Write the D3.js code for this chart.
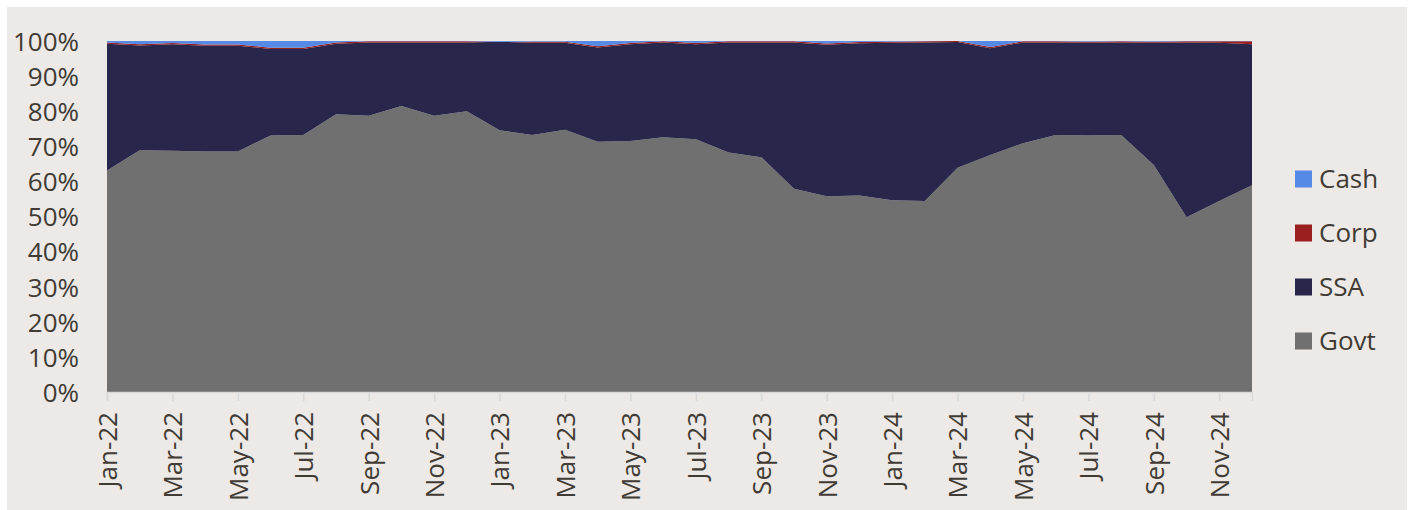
<!DOCTYPE html>
<html>
<head>
<meta charset="utf-8">
<script src="https://cdn.jsdelivr.net/npm/d3@7"></script>
<style>
  html, body { margin: 0; padding: 0; background: #ffffff; }
  svg { display: block; }
  text { font-family: "Open Sans", "Noto Sans", sans-serif; fill: #403b35; }
</style>
</head>
<body>
<svg id="chart" width="1412" height="510"></svg>
<script>
const months = ["Jan-22","Feb-22","Mar-22","Apr-22","May-22","Jun-22","Jul-22","Aug-22","Sep-22","Oct-22","Nov-22","Dec-22",
                "Jan-23","Feb-23","Mar-23","Apr-23","May-23","Jun-23","Jul-23","Aug-23","Sep-23","Oct-23","Nov-23","Dec-23",
                "Jan-24","Feb-24","Mar-24","Apr-24","May-24","Jun-24","Jul-24","Aug-24","Sep-24","Oct-24","Nov-24","Dec-24"];

const govt = [63.1,68.9,68.7,68.5,68.5,73.1,73.2,79.1,78.7,81.5,78.7,80.0,
              74.6,73.2,74.7,71.3,71.5,72.6,72.0,68.2,66.9,57.9,55.8,56.0,
              54.6,54.4,63.9,67.5,70.9,73.2,73.1,73.2,64.7,49.8,54.4,58.9];
const corp = [0.35,0.35,0.35,0.35,0.35,0.35,0.35,0.35,0.35,0.3,0.3,0.3,
              0.0,0.3,0.3,0.35,0.35,0.3,0.35,0.3,0.3,0.3,0.35,0.35,
              0.3,0.3,0.3,0.35,0.3,0.3,0.3,0.3,0.3,0.3,0.4,0.8];
const cash = [0.4,0.9,0.6,1.0,1.0,1.9,1.9,0.4,0.1,0.1,0.1,0.1,
              0.2,0.2,0.2,1.5,0.6,0.1,0.6,0.1,0.1,0.1,0.7,0.3,
              0.2,0.1,0.0,1.7,0.1,0.1,0.2,0.1,0.2,0.1,0.1,0.1];
const ssa = [36.15,29.85,30.35,30.15,30.15,24.65,24.55,20.15,20.85,18.1,20.9,19.6,
             25.2,26.3,24.8,26.85,27.55,27.0,27.05,31.4,32.7,41.7,43.15,43.35,
             44.9,45.2,35.8,30.45,28.7,26.4,26.4,26.4,34.8,49.8,45.1,40.2];

const seriesKeys = ["Govt","SSA","Corp","Cash"];
const colors = {Govt:"#707070", SSA:"#29264b", Corp:"#9b1f1f", Cash:"#558ae6"};
const legendOrder = ["Cash","Corp","SSA","Govt"];
const yTicks = [0,10,20,30,40,50,60,70,80,90,100];

const rows = months.map((m,i) => ({month:m, Govt:govt[i], SSA:ssa[i], Corp:corp[i], Cash:cash[i]}));

const svg = d3.select("#chart");
svg.append("rect").attr("x",7).attr("y",7).attr("width",1400).attr("height",503).attr("fill","#ece9e6");

const plotLeft = 107, plotRight = 1252, plotTop = 41, plotBottom = 392;
const x = d3.scalePoint().domain(months).range([plotLeft, plotRight]);
const y = d3.scaleLinear().domain([0,100]).range([plotBottom, plotTop]);

const stack = d3.stack().keys(seriesKeys).order(d3.stackOrderNone).offset(d3.stackOffsetExpand);
const layers = stack(rows);

const area = d3.area()
  .x(d => x(d.data.month))
  .y0(d => y(d[0]*100))
  .y1(d => y(d[1]*100));

svg.append("g").selectAll("path").data(layers).join("path")
  .attr("d", area)
  .attr("fill", d => colors[d.key]);

// x axis
const xAxis = d3.axisBottom(x)
  .tickValues(months.filter((m,i) => i % 2 === 0))
  .tickSize(9).tickPadding(0);
const gx = svg.append("g").attr("transform", `translate(0,${plotBottom})`).call(xAxis);
gx.select(".domain").attr("stroke","#d9d9d9").attr("stroke-width",1.5);
gx.selectAll(".tick line").attr("stroke","#d9d9d9").attr("stroke-width",1.5);
gx.selectAll(".tick text")
  .attr("font-size", 26)
  .attr("transform","rotate(-90)")
  .attr("text-anchor","end")
  .attr("x", -20)
  .attr("y", 0)
  .attr("dy","0.36em")
  .style("fill","#403b35");

// y axis
const yAxis = d3.axisLeft(y).tickValues(yTicks).tickFormat(d => d + "%").tickSize(0).tickPadding(0);
const gy = svg.append("g").attr("transform", `translate(79,0)`).call(yAxis);
gy.select(".domain").remove();
gy.selectAll(".tick text").attr("font-size", 26).attr("dy","0.36em").style("fill","#403b35");

// legend
const lg = svg.append("g");
legendOrder.forEach((k,i) => {
  const cy = 179 + i*54;
  lg.append("rect").attr("x",1295).attr("y",cy-8.5).attr("width",17).attr("height",17).attr("fill",colors[k]);
  lg.append("text").attr("x",1319).attr("y",cy).attr("dy","0.36em").attr("font-size",26).text(k);
});
</script>
</body>
</html>
